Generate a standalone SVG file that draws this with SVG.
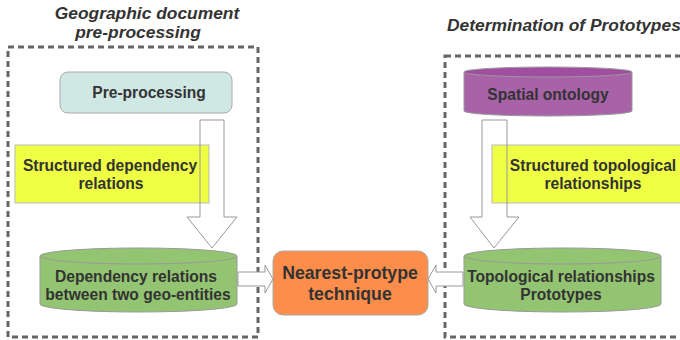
<svg xmlns="http://www.w3.org/2000/svg" width="680" height="340" viewBox="0 0 680 340">
  <style>
    .frame { fill: none; stroke: #666; stroke-width: 3; stroke-dasharray: 6 4; }
    .title { font-family: "Liberation Sans", Arial, sans-serif; font-weight: bold; font-style: italic; font-size: 17.4px; fill: #333; }
    .lbl { font-family: "Liberation Sans", Arial, sans-serif; font-weight: bold; font-size: 15.6px; fill: #333; text-anchor: middle; }
    .big { font-size: 17.7px; }
    .hollow { fill: none; stroke: #999; stroke-width: 1; }
    .hollow-w { fill: #fff; stroke: #999; stroke-width: 1; }
  </style>

  <!-- frames and headings -->
  <rect class="frame" x="8" y="47" width="250" height="290"/>
  <text class="title" x="147" y="19" text-anchor="middle">Geographic document</text>
  <text class="title" x="138" y="38" text-anchor="middle">pre-processing</text>
  <rect class="frame" x="445" y="56" width="250" height="281"/>
  <text class="title" x="447" y="31">Determination of Prototypes</text>

  <g id="preprocessing">
    <rect x="60" y="72" width="172" height="41" rx="8" fill="#cfe8e4" stroke="#aaa"/>
    <text class="lbl" x="149" y="98">Pre-processing</text>
  </g>

  <g id="structured-dependency">
    <rect x="15" y="145" width="194" height="58" fill="#eeff44" stroke="#bbb"/>
    <text class="lbl" x="110" y="171">Structured dependency</text>
    <text class="lbl" x="111" y="189">relations</text>
  </g>

  <g id="dependency-relations">
    <path d="M40,256 V304 A98.5,8 0 0 0 237,304 V256" fill="#93c472" stroke="#999"/>
    <ellipse cx="138.5" cy="256" rx="98.5" ry="8" fill="#93c472" stroke="#999"/>
    <text class="lbl" x="136" y="282">Dependency relations</text>
    <text class="lbl" x="138" y="300">between two geo-entities</text>
  </g>

  <g id="spatial-ontology">
    <path d="M464,72 V111 A84,5 0 0 0 632,111 V72" fill="#a862a8" stroke="#999"/>
    <ellipse cx="548" cy="72" rx="84" ry="5" fill="#a14ea1" stroke="#999"/>
    <text class="lbl" x="548" y="100">Spatial ontology</text>
  </g>

  <g id="structured-topological">
    <rect x="492" y="145" width="200" height="58" fill="#eeff44" stroke="#bbb"/>
    <text class="lbl" x="593" y="171">Structured topological</text>
    <text class="lbl" x="593" y="189">relationships</text>
  </g>

  <g id="topological-prototypes">
    <path d="M464,256 V304 A98.5,8 0 0 0 661,304 V256" fill="#93c472" stroke="#999"/>
    <ellipse cx="562.5" cy="256" rx="98.5" ry="8" fill="#93c472" stroke="#999"/>
    <text class="lbl" x="561" y="282">Topological relationships</text>
    <text class="lbl" x="561" y="300">Prototypes</text>
  </g>

  <g id="nearest-prototype">
    <rect x="273" y="251" width="155" height="64" rx="10" fill="#fd8d4b" stroke="#aaa"/>
    <text class="lbl big" x="350" y="279">Nearest-protype</text>
    <text class="lbl big" x="350" y="300">technique</text>
  </g>

  <g id="connectors">
    <path class="hollow" d="M200,120 H224 V217 H237 L212,248 L187,217 H200 Z"/>
    <path class="hollow" d="M482,120 H507 V217 H519 L494,248 L470,217 H482 Z"/>
    <path class="hollow-w" d="M238,272 H265 V265 L273,279 L265,293 V286 H238 Z"/>
    <path class="hollow-w" d="M463,272 H436 V265 L428,279 L436,293 V286 H463 Z"/>
  </g>
</svg>
